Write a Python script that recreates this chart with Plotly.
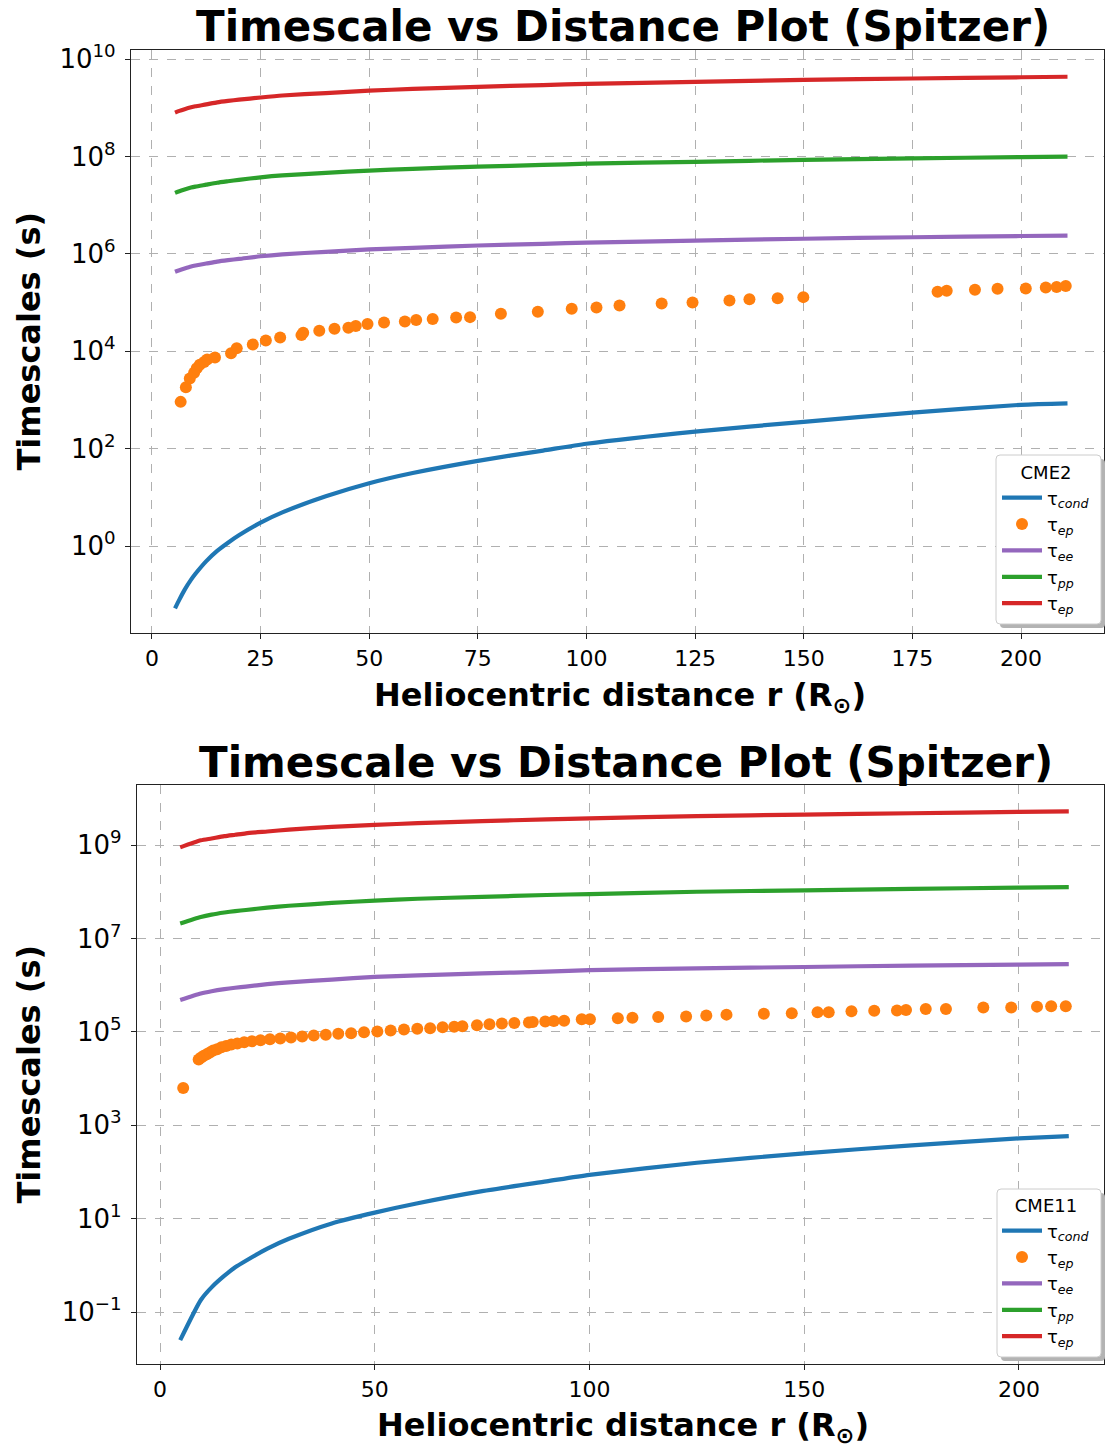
import plotly.graph_objects as go

W, H = 1107, 1448

# ---------------- CME2 (top panel) ----------------
cme2_r_line = [5.3, 6.3, 7.5, 9, 10, 12.5, 15, 17.5, 20, 25, 30, 40, 50, 60, 75, 90,
               100, 125, 150, 175, 200, 210.7]
cme2_tau_cond = [0.0525, 0.0794, 0.126, 0.204, 0.269, 0.490, 0.794, 1.17, 1.66, 3.02, 4.90,
                 10.5, 19.5, 31.6, 56.2, 91.2, 126, 224, 355, 550, 794, 851]
cme2_tau_ee = [4.27e5, 4.62e5, 5.01e5, 5.50e5, 5.75e5, 6.31e5, 6.92e5, 7.41e5, 7.85e5, 8.91e5,
               9.77e5, 1.10e6, 1.23e6, 1.33e6, 1.48e6, 1.60e6, 1.70e6, 1.86e6, 2.04e6, 2.19e6,
               2.32e6, 2.37e6]
cme2_tau_pp = [1.78e7, 1.93e7, 2.09e7, 2.29e7, 2.40e7, 2.63e7, 2.88e7, 3.09e7, 3.31e7, 3.72e7,
               4.07e7, 4.57e7, 5.13e7, 5.56e7, 6.17e7, 6.68e7, 7.08e7, 7.76e7, 8.51e7, 9.12e7,
               9.66e7, 9.89e7]
cme2_tau_ep_line = [7.94e8, 8.61e8, 9.33e8, 1.02e9, 1.07e9, 1.17e9, 1.29e9, 1.38e9, 1.46e9,
                    1.62e9, 1.78e9, 2.00e9, 2.24e9, 2.43e9, 2.69e9, 2.92e9, 3.09e9, 3.39e9,
                    3.72e9, 3.98e9, 4.22e9, 4.32e9]
cme2_r_pts = [6.6, 7.8, 8.7, 9.7, 10.3, 11.0, 12.0, 12.7, 14.5, 18.2, 19.5, 23.2, 26.2, 29.5,
              34.4, 34.8, 38.5, 42.0, 45.2, 46.9, 49.6, 53.4, 58.2, 60.8, 64.6, 70.0, 73.2,
              80.3, 88.8, 96.6, 102.3, 107.6, 117.3, 124.4, 132.9, 137.5, 144.0, 149.9,
              180.8, 182.9, 189.4, 194.6, 201.1, 205.7, 208.2, 210.3]
cme2_tau_ep_pts = [912, 1820, 2750, 3630, 4470, 5250, 6030, 6760, 7410, 9120, 11500, 13800,
                   16600, 19100, 21400, 24000, 26300, 28800, 30200, 33100, 36300, 38900,
                   40700, 43700, 45700, 49000, 50100, 58900, 64600, 74100, 79400, 87100,
                   95500, 100000, 110000, 117000, 123000, 129000, 166000, 174000, 182000,
                   191000, 195000, 204000, 209000, 219000]

# ---------------- CME11 (bottom panel) ----------------
cme11_r_line = [4.7, 9.5, 12, 15, 17.5, 20, 25, 30, 40, 50, 60, 75, 90, 100, 125, 150, 175,
                200, 211.6]
cme11_tau_cond = [0.0251, 0.182, 0.339, 0.603, 0.912, 1.26, 2.29, 3.72, 7.94, 13.5, 21.4, 38.9,
                  63.1, 87.1, 158, 251, 372, 525, 589]
cme11_tau_ee = [4.79e5, 6.61e5, 7.41e5, 8.22e5, 8.81e5, 9.33e5, 1.05e6, 1.15e6, 1.32e6, 1.51e6,
                1.62e6, 1.78e6, 1.95e6, 2.09e6, 2.29e6, 2.45e6, 2.63e6, 2.75e6, 2.82e6]
cme11_tau_pp = [2.09e7, 2.88e7, 3.24e7, 3.59e7, 3.85e7, 4.07e7, 4.57e7, 5.01e7, 5.75e7, 6.46e7,
                7.08e7, 7.76e7, 8.51e7, 8.91e7, 1.00e8, 1.07e8, 1.15e8, 1.23e8, 1.26e8]
cme11_tau_ep_line = [8.91e8, 1.26e9, 1.38e9, 1.55e9, 1.66e9, 1.78e9, 1.95e9, 2.14e9, 2.45e9,
                     2.69e9, 2.95e9, 3.24e9, 3.55e9, 3.72e9, 4.17e9, 4.47e9, 4.79e9, 5.13e9,
                     5.25e9]
cme11_r_pts = [5.4, 9.0, 9.6, 10.2, 10.9, 11.6, 12.4, 13.3, 14.3, 15.4, 16.6, 18.0, 19.6, 21.4,
               23.4, 25.6, 28.0, 30.5, 33.1, 35.8, 38.6, 41.5, 44.5, 47.5, 50.6, 53.7, 56.8,
               59.9, 62.9, 65.8, 68.5, 70.4, 73.8, 76.7, 79.6, 82.5, 85.9, 86.8, 89.7, 91.7,
               94.1, 98.2, 100.1, 106.6, 110.0, 116.0, 122.5, 127.2, 131.9, 140.6, 147.1,
               153.1, 155.7, 161.0, 166.3, 171.6, 173.7, 178.3, 183.0, 191.7, 198.2, 204.2,
               207.5, 210.9]
cme11_tau_ep_pts = [6310, 25700, 28200, 30900, 33100, 36300, 39800, 42700, 46800, 50100, 53700,
                    56200, 60300, 63100, 66100, 69200, 72400, 75900, 79400, 83200, 87100,
                    91200, 93300, 97700, 102000, 107000, 112000, 117000, 120000, 126000,
                    129000, 132000, 138000, 145000, 151000, 155000, 158000, 162000, 166000,
                    170000, 174000, 186000, 186000, 195000, 200000, 209000, 214000, 224000,
                    234000, 245000, 251000, 263000, 263000, 275000, 282000, 288000, 295000,
                    309000, 309000, 331000, 331000, 347000, 355000, 355000]

top_xticks = [0, 25, 50, 75, 100, 125, 150, 175, 200]
top_yticks = [1e0, 1e2, 1e4, 1e6, 1e8, 1e10]
top_yticktext = ["10<sup>0</sup>", "10<sup>2</sup>", "10<sup>4</sup>", "10<sup>6</sup>",
                 "10<sup>8</sup>", "10<sup>10</sup>"]
bot_xticks = [0, 50, 100, 150, 200]
bot_yticks = [1e-1, 1e1, 1e3, 1e5, 1e7, 1e9]
bot_yticktext = ["10<sup>\u22121</sup>", "10<sup>1</sup>", "10<sup>3</sup>", "10<sup>5</sup>",
                 "10<sup>7</sup>", "10<sup>9</sup>"]

labels = ["\u03c4<sub><i>cond</i></sub>", "\u03c4<sub><i>ep</i></sub>",
          "\u03c4<sub><i>ee</i></sub>", "\u03c4<sub><i>pp</i></sub>",
          "\u03c4<sub><i>ep</i></sub>"]
C_BLUE, C_ORANGE, C_PURPLE, C_GREEN, C_RED = "#1f77b4", "#ff7f0e", "#9467bd", "#2ca02c", "#d62728"
FONT = "DejaVu Sans"

fig = go.Figure()


def add_panel(xa, ya, leg, r_line, cond, r_pts, ep_pts, ee, pp, ep_line, grp):
    common = dict(xaxis=xa, yaxis=ya, legend=leg)
    ls = dict(width=4.2, shape="spline", smoothing=0.6)
    fig.add_trace(go.Scatter(x=r_line, y=cond, mode="lines", name=labels[0],
                             line=dict(color=C_BLUE, **ls), legendgroup=grp + "a", **common))
    fig.add_trace(go.Scatter(x=r_pts, y=ep_pts, mode="markers", name=labels[1],
                             marker=dict(color=C_ORANGE, size=12, line=dict(width=0)),
                             legendgroup=grp + "b", **common))
    fig.add_trace(go.Scatter(x=r_line, y=ee, mode="lines", name=labels[2],
                             line=dict(color=C_PURPLE, **ls), legendgroup=grp + "c", **common))
    fig.add_trace(go.Scatter(x=r_line, y=pp, mode="lines", name=labels[3],
                             line=dict(color=C_GREEN, **ls), legendgroup=grp + "d", **common))
    fig.add_trace(go.Scatter(x=r_line, y=ep_line, mode="lines", name=labels[4],
                             line=dict(color=C_RED, **ls), legendgroup=grp + "e", **common))


add_panel("x", "y", "legend", cme2_r_line, cme2_tau_cond, cme2_r_pts, cme2_tau_ep_pts,
          cme2_tau_ee, cme2_tau_pp, cme2_tau_ep_line, "t")
add_panel("x2", "y2", "legend2", cme11_r_line, cme11_tau_cond, cme11_r_pts, cme11_tau_ep_pts,
          cme11_tau_ee, cme11_tau_pp, cme11_tau_ep_line, "b")


def px_x(p):
    return p / W


def px_y(p):
    return 1 - p / H


# plot-area pixel boxes (left, top, right, bottom)
TOP = (131, 50, 1104, 633)
BOT = (137, 785, 1104, 1364)

axis_common = dict(showgrid=True, gridcolor="#b0b0b0", gridwidth=1, griddash="dash",
                   showline=True, mirror=True, linecolor="#222222", linewidth=1.3,
                   ticks="outside", ticklen=5, tickwidth=1.2, tickcolor="#222222",
                   zeroline=False, automargin=False)
xfont = dict(family=FONT, size=22, color="black")
yfont = dict(family=FONT, size=26, color="black")

fig.update_layout(
    template="none",
    width=W, height=H, margin=dict(l=0, r=0, t=0, b=0, pad=0),
    paper_bgcolor="white", plot_bgcolor="white",
    font=dict(family=FONT, color="black"),
    xaxis=dict(domain=[px_x(TOP[0]), px_x(TOP[2])], anchor="y", range=[-4.83, 219.1],
               tickvals=top_xticks, tickfont=xfont, **axis_common),
    yaxis=dict(domain=[px_y(TOP[3]), px_y(TOP[1])], anchor="x", type="log",
               range=[-1.786, 10.185], tickvals=top_yticks, ticktext=top_yticktext,
               tickfont=yfont, ticklabelstandoff=4, **axis_common),
    xaxis2=dict(domain=[px_x(BOT[0]), px_x(BOT[2])], anchor="y2", range=[-5.36, 219.8],
                tickvals=bot_xticks, tickfont=xfont, **axis_common),
    yaxis2=dict(domain=[px_y(BOT[3]), px_y(BOT[1])], anchor="x2", type="log",
                range=[-2.11, 10.285], tickvals=bot_yticks, ticktext=bot_yticktext,
                tickfont=yfont, ticklabelstandoff=4, **axis_common),
    legend=dict(title=dict(text="CME2", side="top center", font=dict(size=18, family=FONT)),
                x=px_x(997), xanchor="left", y=px_y(456), yanchor="top",
                bgcolor="rgba(0,0,0,0)", borderwidth=0,
                font=dict(size=18, family=FONT), tracegroupgap=0, itemwidth=40),
    legend2=dict(title=dict(text="CME11", side="top center", font=dict(size=18, family=FONT)),
                 x=px_x(997), xanchor="left", y=px_y(1189), yanchor="top",
                 bgcolor="rgba(0,0,0,0)", borderwidth=0,
                 font=dict(size=18, family=FONT), tracegroupgap=0, itemwidth=40),
)


def rounded_path(l, t, r, b, rad=4):
    xl, xr = px_x(l), px_x(r)
    yt, yb = px_y(t), px_y(b)
    dx, dy = rad / W, rad / H
    return (f"M {xl+dx},{yt} L {xr-dx},{yt} Q {xr},{yt} {xr},{yt-dy} "
            f"L {xr},{yb+dy} Q {xr},{yb} {xr-dx},{yb} L {xl+dx},{yb} "
            f"Q {xl},{yb} {xl},{yb+dy} L {xl},{yt-dy} Q {xl},{yt} {xl+dx},{yt} Z")


shapes = []
for (l, t, r, b) in [(996, 455, 1101, 624), (997, 1189, 1101, 1357)]:
    shapes.append(dict(type="path", xref="paper", yref="paper",
                       path=rounded_path(l + 4, t + 4, r + 4, b + 4),
                       fillcolor="#b3b3b3", line=dict(width=0), layer="above"))
    shapes.append(dict(type="path", xref="paper", yref="paper",
                       path=rounded_path(l, t, r, b),
                       fillcolor="white", line=dict(color="#cccccc", width=1), layer="above"))
fig.update_layout(shapes=shapes)

ann = []
title_txt = "Timescale vs Distance Plot (Spitzer)"
for box, ty, xl_y in [(TOP, 26, 697), (BOT, 762, 1427)]:
    cx = (box[0] + box[2]) / 2
    ann.append(dict(text=title_txt, x=px_x(cx + 5), y=px_y(ty), xref="paper", yref="paper",
                    showarrow=False, xanchor="center", yanchor="middle",
                    font=dict(family=FONT, size=42, weight="bold", color="black")))
    ann.append(dict(text="Heliocentric distance r (R<sub>\u2299</sub>)", x=px_x(cx + 2),
                    y=px_y(xl_y), xref="paper", yref="paper", showarrow=False,
                    xanchor="center", yanchor="middle",
                    font=dict(family=FONT, size=32, weight="bold", color="black")))
    ann.append(dict(text="Timescales (s)", x=px_x(28), y=px_y((box[1] + box[3]) / 2),
                    xref="paper", yref="paper", showarrow=False, textangle=-90,
                    xanchor="center", yanchor="middle",
                    font=dict(family=FONT, size=32, weight="bold", color="black")))
fig.update_layout(annotations=ann)

fig.write_html("out.html")
